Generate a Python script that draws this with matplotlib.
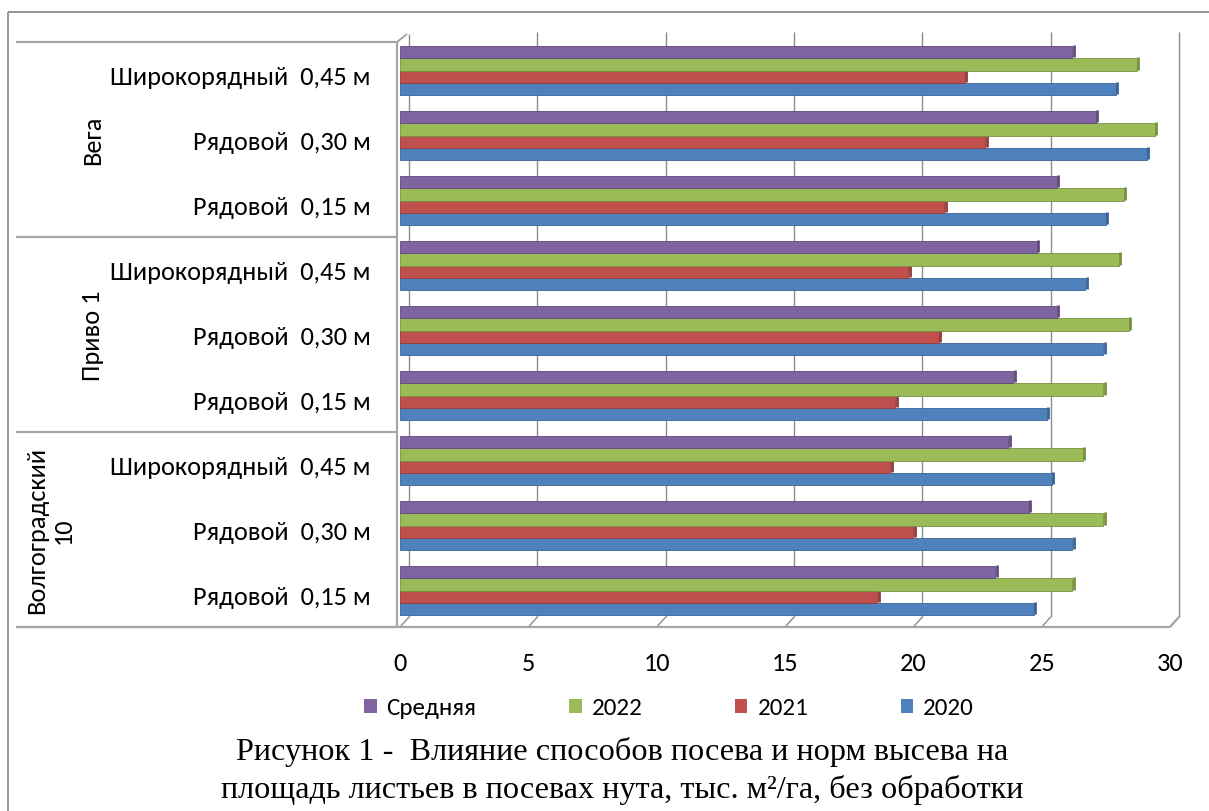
import matplotlib
matplotlib.use("Agg")
import matplotlib.pyplot as plt
import numpy as np
from matplotlib import font_manager
from matplotlib.patches import Patch
from matplotlib.lines import Line2D
import matplotlib.transforms as mtransforms

# ---- data ---------------------------------------------------------------
varieties = ["Волгоградский\n10", "Приво 1", "Вега"]
methods = ["Рядовой  0,15 м", "Рядовой  0,30 м", "Широкорядный  0,45 м"]
series_names = ["2020", "2021", "2022", "Средняя"]

# rows: Волгоградский 10 (0,15 / 0,30 / 0,45), Приво 1 (...), Вега (...)
y2020 = [24.7, 26.2, 25.4, 25.2, 27.4, 26.7, 27.5, 29.1, 27.9]
y2021 = [18.6, 20.0, 19.1, 19.3, 21.0, 19.8, 21.2, 22.8, 22.0]
y2022 = [26.2, 27.4, 26.6, 27.4, 28.4, 28.0, 28.2, 29.4, 28.7]
y_mean = [23.2, 24.5, 23.7, 23.9, 25.6, 24.8, 25.6, 27.1, 26.2]

x_ticks = [0, 5, 10, 15, 20, 25, 30]

colors = ["#4F81BD", "#C0504D", "#9BBB59", "#8064A2"]
edge_colors = ["#3A6396", "#943B39", "#77913F", "#5F4A7A"]

caption = ("Рисунок 1 -  Влияние способов посева и норм высева на\n"
           "площадь листьев в посевах нута, тыс. м²/га, без обработки")

# ---- fonts --------------------------------------------------------------
available = {f.name for f in font_manager.fontManager.ttflist}
sans = next((f for f in ["Carlito", "Liberation Sans Narrow", "Open Sans", "Noto Sans"]
             if f in available), "DejaVu Sans")
serif = "Liberation Serif" if "Liberation Serif" in available else "DejaVu Serif"
plt.rcParams["font.family"] = [sans, "DejaVu Sans"]

# ---- figure -------------------------------------------------------------
W, H = 1209, 812
fig = plt.figure(figsize=(W / 100, H / 100), dpi=100)
fig.patch.set_facecolor("white")


def fx(px):
    return px / W


def fy(py):
    return 1 - py / H


# plot area (front plane)
left, right, top, bottom = 400, 1170, 43, 628
ax = fig.add_axes([fx(left), fy(bottom), (right - left) / W, (bottom - top) / H])
ax.patch.set_visible(False)
ax.set_xlim(x_ticks[0], x_ticks[-1])
n_rows = len(y2020)
ax.set_ylim(-0.5, n_rows - 0.5)
for s in ax.spines.values():
    s.set_visible(False)

# bars
series = [y2020, y2021, y2022, y_mean]
bar_h = 0.19
shift = 0.06
rows = np.arange(n_rows)
side_off = mtransforms.ScaledTranslation(1.0 / 72, 0.6 / 72, fig.dpi_scale_trans)
for i, (vals, c, ec) in enumerate(zip(series, colors, edge_colors)):
    ypos = rows + (i - 1.5) * bar_h + shift
    ax.barh(ypos, vals, height=bar_h, color=c, edgecolor=ec, linewidth=0.6, zorder=3)
    # thin darker side face at the end of each bar
    for v, yc in zip(vals, ypos):
        ax.plot([v, v], [yc - bar_h / 2, yc + bar_h / 2], color=ec, lw=2.0,
                solid_capstyle="butt", transform=ax.transData + side_off, zorder=2.5)

# ticks
label_size = 19
ax.set_xticks(x_ticks)
ax.set_xticklabels([str(t) for t in x_ticks], fontsize=label_size)
ax.tick_params(axis="x", length=0, pad=17)
method_labels = methods * len(varieties)
ax.set_yticks(rows)
ax.set_yticklabels(method_labels, fontsize=label_size)
ax.tick_params(axis="y", length=0, pad=21)

fig.canvas.draw()
ident = mtransforms.IdentityTransform()
grid_c = "#8C8C8C"
wall_c = "#A6A6A6"


def pix_line(xs, ys, color, lw, z=-1):
    """Line in image pixel coordinates (origin at top-left)."""
    fig.add_artist(Line2D(xs, [H - y for y in ys], transform=ident,
                          color=color, lw=lw, zorder=z, solid_capstyle="butt"))


def data_x(v):
    return ax.transData.transform((v, 0))[0]


def data_y(v):
    return H - ax.transData.transform((0, v))[1]


# back wall gridlines with their floor segments
depth_x, back_top, back_floor = 9, 33, 618
for t in x_ticks:
    xf = data_x(t)
    top_y = back_top + (2 if t == x_ticks[0] else 0)
    pix_line([xf + depth_x, xf + depth_x], [top_y, back_floor], grid_c, 1.0)
    pix_line([xf + depth_x, xf], [back_floor, bottom], grid_c, 1.0)

# left wall and floor front edge
pix_line([left - 3, left - 3], [top, bottom], wall_c, 1.6)
pix_line([left - 3, left + 7], [top, top - 8], wall_c, 1.4)
pix_line([16, data_x(x_ticks[-1])], [bottom, bottom], wall_c, 1.6)
pix_line([data_x(x_ticks[-1]), data_x(x_ticks[-1]) + depth_x],
         [bottom, back_floor], wall_c, 1.6)

# category group separators
for b in range(len(varieties) + 1):
    yb = data_y(b * 3 - 0.5)
    pix_line([16, left - 3], [yb, yb], wall_c, 1.6)

# variety labels (rotated)
for g, name in enumerate(varieties):
    yc = data_y(g * 3 + 1)
    xc = 50 if "\n" in name else 93
    fig.text(fx(xc), fy(yc), name, rotation=90, ha="center", va="center",
             multialignment="center", fontsize=label_size, linespacing=1.2)

# outer frame
pix_line([8, 8], [13, H], "#8C8C8C", 1.3, z=5)
pix_line([8, W], [13, 13], "#8C8C8C", 1.3, z=5)

# legend
handles = [Patch(facecolor=c) for c in colors[::-1]]
fig.legend(handles, series_names[::-1], ncol=4, loc="center",
           bbox_to_anchor=(fx(669), fy(709)), frameon=False, fontsize=18,
           handlelength=0.5, handleheight=0.5, handletextpad=0.4,
           columnspacing=3.7, borderpad=0)

# caption
fig.text(fx(622), fy(771), caption, ha="center", va="center",
         family=serif, fontsize=23.2, linespacing=1.32)

fig.savefig("out.png", dpi=100, facecolor="white")
